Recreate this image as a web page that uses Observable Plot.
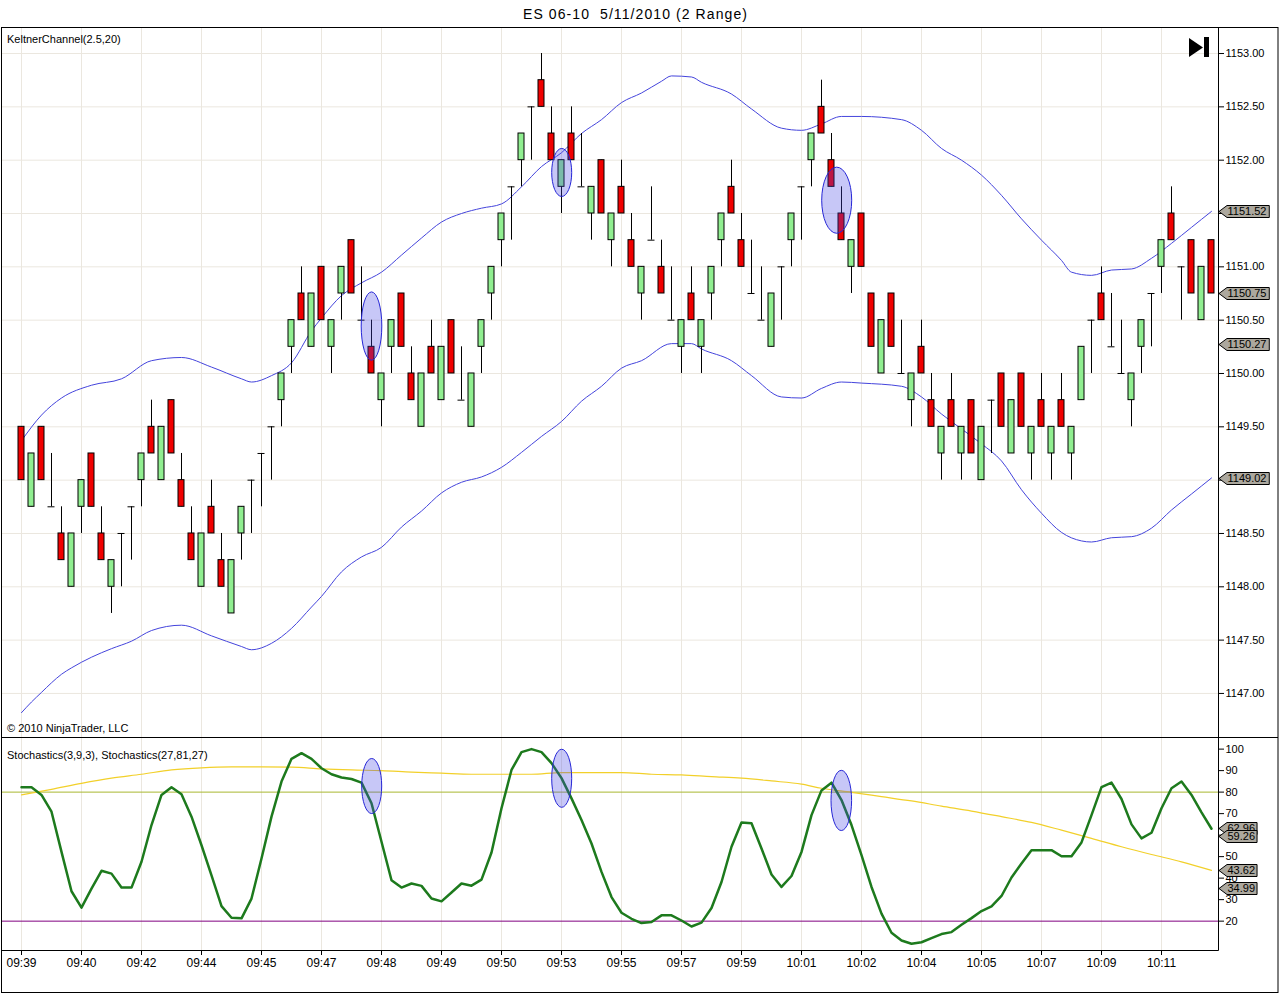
<!DOCTYPE html>
<html>
<head>
<meta charset="utf-8">
<script src="https://cdn.jsdelivr.net/npm/d3@7"></script>
<script src="https://cdn.jsdelivr.net/npm/@observablehq/plot@0.6"></script>
<style>
  body { margin: 0; background: #fff; }
  #wrap { position: relative; width: 1280px; height: 994px; overflow: hidden; background: #fff; }
  #wrap > svg { position: absolute; left: 0; }
</style>
</head>
<body>
<div id="wrap"></div>
<script>
// ---------------- DATA ----------------
const chartTitle = "ES 06-10  5/11/2010 (2 Range)";
const priceLabel = "KeltnerChannel(2.5,20)";
const stochLabel = "Stochastics(3,9,3), Stochastics(27,81,27)";
const copyright = "© 2010 NinjaTrader, LLC";

const barOpen = [
  1149.5, 1148.75, 1149.5, 1148.75, 1148.5, 1148.0, 1148.75, 1149.25, 1148.5, 1148.0,
  1148.5, 1148.75, 1149.0, 1149.5, 1149.0, 1149.75, 1149.0, 1148.5, 1148.0, 1148.75,
  1148.25, 1147.75, 1148.5, 1149.0, 1149.25, 1149.5, 1149.75, 1150.25, 1150.75, 1150.25,
  1151.0, 1150.25, 1150.75, 1151.25, 1150.5, 1150.25, 1149.75, 1150.25, 1150.75, 1150.0,
  1149.5, 1150.25, 1149.75, 1150.5, 1149.75, 1149.5, 1150.25, 1150.75, 1151.25, 1151.75,
  1152.0, 1152.5, 1152.75, 1152.25, 1151.75, 1152.25, 1151.75, 1151.5, 1152.0, 1151.25,
  1151.75, 1151.25, 1150.75, 1151.25, 1151.0, 1150.5, 1150.25, 1150.75, 1150.25, 1150.75,
  1151.25, 1151.75, 1151.25, 1150.75, 1150.5, 1150.25, 1151.0, 1151.25, 1151.75, 1152.0,
  1152.5, 1152.0, 1151.5, 1151.0, 1151.5, 1150.75, 1150.0, 1150.75, 1150.0, 1149.75,
  1150.25, 1149.75, 1149.25, 1149.75, 1149.25, 1149.75, 1149.0, 1149.75, 1150.0, 1149.25,
  1150.0, 1149.25, 1149.75, 1149.25, 1149.75, 1149.25, 1149.75, 1150.5, 1150.75, 1150.25,
  1150.0, 1149.75, 1150.25, 1150.75, 1151.0, 1151.5, 1151.0, 1151.25, 1150.5, 1151.25
];
const barHigh = [
  1149.5, 1149.25, 1149.5, 1149.25, 1148.75, 1148.5, 1149.0, 1149.25, 1148.75, 1148.25,
  1148.5, 1148.75, 1149.25, 1149.75, 1149.5, 1149.75, 1149.25, 1148.75, 1148.5, 1149.0,
  1148.5, 1148.25, 1148.75, 1149.0, 1149.25, 1149.5, 1150.0, 1150.5, 1151.0, 1150.75,
  1151.0, 1150.5, 1151.0, 1151.25, 1151.0, 1150.5, 1150.0, 1150.5, 1150.75, 1150.25,
  1150.0, 1150.5, 1150.25, 1150.5, 1150.25, 1150.0, 1150.5, 1151.0, 1151.5, 1151.75,
  1152.25, 1152.5, 1153.0, 1152.5, 1152.0, 1152.5, 1152.25, 1151.75, 1152.0, 1151.5,
  1152.0, 1151.5, 1151.0, 1151.75, 1151.25, 1151.0, 1150.5, 1151.0, 1150.5, 1151.0,
  1151.5, 1152.0, 1151.5, 1151.25, 1151.0, 1150.75, 1151.0, 1151.5, 1151.75, 1152.25,
  1152.75, 1152.25, 1151.75, 1151.25, 1151.5, 1150.75, 1150.5, 1150.75, 1150.5, 1150.0,
  1150.5, 1150.0, 1149.5, 1150.0, 1149.5, 1149.75, 1149.5, 1149.75, 1150.0, 1149.75,
  1150.0, 1149.5, 1150.0, 1149.5, 1150.0, 1149.5, 1150.25, 1150.5, 1151.0, 1150.75,
  1150.5, 1150.0, 1150.5, 1150.75, 1151.25, 1151.75, 1151.0, 1151.25, 1151.0, 1151.25
];
const barLow = [
  1149.0, 1148.75, 1149.0, 1148.75, 1148.25, 1148.0, 1148.5, 1148.75, 1148.25, 1147.75,
  1148.0, 1148.25, 1148.75, 1149.25, 1149.0, 1149.25, 1148.75, 1148.25, 1148.0, 1148.5,
  1148.0, 1147.75, 1148.25, 1148.5, 1148.75, 1149.0, 1149.5, 1150.0, 1150.5, 1150.25,
  1150.5, 1150.0, 1150.5, 1150.75, 1150.5, 1150.0, 1149.5, 1150.0, 1150.25, 1149.75,
  1149.5, 1150.0, 1149.75, 1150.0, 1149.75, 1149.5, 1150.0, 1150.5, 1151.0, 1151.25,
  1151.75, 1152.0, 1152.5, 1152.0, 1151.5, 1152.0, 1151.75, 1151.25, 1151.5, 1151.0,
  1151.5, 1151.0, 1150.5, 1151.25, 1150.75, 1150.5, 1150.0, 1150.5, 1150.0, 1150.5,
  1151.0, 1151.5, 1151.0, 1150.75, 1150.5, 1150.25, 1150.5, 1151.0, 1151.25, 1151.75,
  1152.25, 1151.75, 1151.25, 1150.75, 1151.0, 1150.25, 1150.0, 1150.25, 1150.0, 1149.5,
  1150.0, 1149.5, 1149.0, 1149.5, 1149.0, 1149.25, 1149.0, 1149.25, 1149.5, 1149.25,
  1149.5, 1149.0, 1149.5, 1149.0, 1149.5, 1149.0, 1149.75, 1150.0, 1150.5, 1150.25,
  1150.0, 1149.5, 1150.0, 1150.25, 1150.75, 1151.25, 1150.5, 1150.75, 1150.5, 1150.75
];
const barClose = [
  1149.0, 1149.25, 1149.0, 1148.75, 1148.25, 1148.5, 1149.0, 1148.75, 1148.25, 1148.25,
  1148.5, 1148.75, 1149.25, 1149.25, 1149.5, 1149.25, 1148.75, 1148.25, 1148.5, 1148.5,
  1148.0, 1148.25, 1148.75, 1149.0, 1149.25, 1149.5, 1150.0, 1150.5, 1150.5, 1150.75,
  1150.5, 1150.5, 1151.0, 1150.75, 1150.5, 1150.0, 1150.0, 1150.5, 1150.25, 1149.75,
  1150.0, 1150.0, 1150.25, 1150.0, 1149.75, 1150.0, 1150.5, 1151.0, 1151.5, 1151.75,
  1152.25, 1152.5, 1152.5, 1152.0, 1152.0, 1152.0, 1151.75, 1151.75, 1151.5, 1151.5,
  1151.5, 1151.0, 1151.0, 1151.25, 1150.75, 1150.5, 1150.5, 1150.5, 1150.5, 1151.0,
  1151.5, 1151.5, 1151.0, 1150.75, 1150.5, 1150.75, 1151.0, 1151.5, 1151.75, 1152.25,
  1152.25, 1151.75, 1151.25, 1151.25, 1151.0, 1150.25, 1150.5, 1150.25, 1150.0, 1150.0,
  1150.0, 1149.5, 1149.5, 1149.5, 1149.5, 1149.25, 1149.5, 1149.75, 1149.5, 1149.75,
  1149.5, 1149.5, 1149.5, 1149.5, 1149.5, 1149.5, 1150.25, 1150.5, 1150.5, 1150.25,
  1150.0, 1150.0, 1150.5, 1150.75, 1151.25, 1151.25, 1151.0, 1150.75, 1151.0, 1150.75
];

// Keltner channel (upper / lower band), read at selected bars
const kcUpperBars = [0,2,4,7,10,13,16,19,22,23,25,27,29,30,32,34,36,38,40,42,44,46,48,50,52,54,56,58,60,62,64,65,67,68,71,73,76,78,80,82,84,88,90,92,94,96,98,100,102,104,105,107,109,111,113,115,117,119];
const kcUpper = [1149.37,1149.61,1149.77,1149.89,1149.95,1150.12,1150.15,1150.06,1149.95,1149.92,1149.98,1150.10,1150.40,1150.52,1150.73,1150.85,1150.95,1151.11,1151.27,1151.42,1151.50,1151.55,1151.59,1151.75,1151.94,1152.07,1152.25,1152.38,1152.54,1152.63,1152.74,1152.79,1152.78,1152.73,1152.62,1152.48,1152.30,1152.28,1152.34,1152.41,1152.41,1152.38,1152.28,1152.11,1152.00,1151.86,1151.67,1151.45,1151.25,1151.06,1150.95,1150.92,1150.97,1150.98,1151.08,1151.22,1151.37,1151.52];
const kcLowerBars = [0,1,2,3,4,5,7,9,11,13,16,19,22,23,25,27,29,30,32,34,36,38,40,42,44,46,48,50,52,54,56,58,60,62,65,67,68,71,73,76,78,80,82,84,88,90,92,94,96,98,100,102,104,106,107,109,111,113,115,117,119];
const kcLower = [1146.82,1146.92,1147.01,1147.10,1147.18,1147.24,1147.34,1147.42,1147.49,1147.59,1147.64,1147.54,1147.44,1147.41,1147.47,1147.61,1147.81,1147.91,1148.14,1148.28,1148.37,1148.56,1148.71,1148.88,1148.98,1149.03,1149.12,1149.26,1149.41,1149.55,1149.74,1149.88,1150.05,1150.12,1150.28,1150.28,1150.23,1150.12,1149.98,1149.78,1149.77,1149.86,1149.92,1149.91,1149.88,1149.78,1149.62,1149.48,1149.34,1149.18,1148.91,1148.69,1148.51,1148.43,1148.42,1148.46,1148.47,1148.55,1148.72,1148.87,1149.02];

// Stochastics(3,9,3) D (green), one value per bar
const stochFast = [
  82.3, 82.3, 78.7, 70.9, 52.2, 33.9, 26.3, 35.1, 43.4, 42.1,
  35.6, 35.6, 47.6, 64.7, 78.7, 82.3, 79.0, 68.6, 55.3, 41.3,
  27.0, 21.6, 21.3, 30.5, 49.1, 68.6, 84.9, 95.5, 98.1, 95.5,
  91.1, 88.3, 86.8, 86.1, 84.4, 74.8, 56.9, 39.0, 35.6, 37.5,
  36.4, 30.5, 29.2, 33.3, 37.5, 36.5, 39.3, 51.9, 72.5, 90.3,
  98.6, 100.0, 98.6, 93.5, 86.5, 77.1, 67.0, 56.1, 42.9, 31.2,
  23.9, 21.1, 19.1, 19.6, 22.7, 22.7, 20.3, 17.5, 19.3, 26.1,
  38.2, 54.6, 65.9, 65.5, 53.8, 41.7, 35.9, 41.0, 52.2, 69.3,
  80.8, 84.4, 76.3, 64.7, 50.7, 35.9, 23.5, 14.6, 11.0, 9.5,
  10.2, 12.1, 14.0, 14.9, 18.3, 21.4, 24.7, 26.9, 31.7, 40.3,
  46.8, 53.0, 53.0, 53.0, 50.2, 50.2, 56.6, 69.3, 82.3, 84.4,
  76.8, 65.0, 58.5, 61.1, 72.5, 81.8, 84.9, 78.7, 70.6, 62.96
];
// Stochastics(27,81,27) D (yellow), read every third bar
const stochSlowBars = [0,3,6,9,12,15,18,21,24,27,30,33,36,39,42,45,48,51,54,57,60,63,66,69,72,75,78,80,83,86,89,92,95,98,101,104,107,110,113,116,119];
const stochSlow = [78.7,81.3,84.1,86.5,88.3,90.3,91.3,91.7,91.7,91.6,90.8,90.3,90.0,89.3,88.8,88.3,88.3,88.3,89.1,89.1,89.1,88.3,88.0,87.2,86.5,85.2,83.7,81.8,79.9,77.9,75.9,73.5,71.2,68.6,65.9,62.3,58.5,54.6,51.0,47.6,43.62];

const stochLevels = [80, 20];

// axis ticks
const priceTicks = [1147, 1147.5, 1148, 1148.5, 1149, 1149.5, 1150, 1150.5, 1151, 1151.5, 1152, 1152.5, 1153];
const stochTicks = [20, 30, 40, 50, 60, 70, 80, 90, 100];
const timeTickBars = [0, 6, 12, 18, 24, 30, 36, 42, 48, 54, 60, 66, 72, 78, 84, 90, 96, 102, 108, 114];
const timeTickLabels = ["09:39","09:40","09:42","09:44","09:45","09:47","09:48","09:49","09:50","09:53","09:55","09:57","09:59","10:01","10:02","10:04","10:05","10:07","10:09","10:11"];

// right-edge value flags
const priceFlags = [1151.52, 1150.75, 1150.27, 1149.02];
const stochFlags = [62.96, 59.26, 43.62, 34.99];

// highlight ellipses: bar position, centre value, half height (value units), half width (bars)
const priceEllipseBar = [35.05, 54.07, 81.57];
const priceEllipseMid = [1150.44, 1151.88, 1151.62];
const priceEllipseHalf = [0.32, 0.225, 0.31];
const priceEllipseWidth = [1.03, 1.0, 1.5];
const stochEllipseBar = [35.07, 54.07, 82.03];
const stochEllipseMid = [82.6, 86.2, 75.9];
const stochEllipseHalf = [12.8, 13.5, 14.0];
const stochEllipseWidth = [1.0, 1.0, 1.03];

// ---------------- BUILD ----------------
const FONT = '"Liberation Sans", Arial, sans-serif';
const GRID = "#ebe7df";
const bars = barOpen.map((o, i) => ({i, open: o, high: barHigh[i], low: barLow[i], close: barClose[i]}));
const upBars = bars.filter(d => d.close > d.open);
const downBars = bars.filter(d => d.close < d.open);
const dojiBars = bars.filter(d => d.close === d.open);
const upperRows = kcUpperBars.map((b, k) => ({i: b, v: kcUpper[k]}));
const lowerRows = kcLowerBars.map((b, k) => ({i: b, v: kcLower[k]}));
const fastRows = stochFast.map((v, i) => ({i, v}));
const slowRows = stochSlowBars.map((b, k) => ({i: b, v: stochSlow[k]}));
const tickLabel = new Map(timeTickBars.map((b, k) => [b, timeTickLabels[k]]));
const xDomain = [-1.9, 119.7];

function ellipseMark(bx, mid, half, wid) {
  return (index, scales) => {
    const g = d3.create("svg:g");
    bx.forEach((b, k) => {
      const cx = scales.x(b), cy = scales.y(mid[k]);
      g.append("ellipse")
        .attr("cx", cx).attr("cy", cy)
        .attr("rx", Math.abs(scales.x(b + wid[k]) - cx))
        .attr("ry", Math.abs(scales.y(mid[k] + half[k]) - cy))
        .attr("fill", "rgba(70,70,230,0.30)")
        .attr("stroke", "#2626d6").attr("stroke-width", 1);
    });
    return g.node();
  };
}

function flagMark(values) {
  return (index, scales, channels, dims) => {
    const g = d3.create("svg:g").attr("text-anchor", "start");
    const ax = dims.width - dims.marginRight;
    values.forEach(v => {
      const y = Math.round(scales.y(v)) + 0.5;
      const label = v.toFixed(2);
      const tw = (label.length - 1) * 6.12 + 3.06;
      const right = ax + 10 + tw + 1.5;
      g.append("path")
        .attr("d", `M${ax + 1},${y}L${ax + 9},${y - 6}H${right}V${y + 6}H${ax + 9}Z`)
        .attr("fill", "#aca89e").attr("stroke", "#000").attr("stroke-width", 1);
      g.append("text")
        .attr("x", ax + 9.5).attr("y", y).attr("dy", "0.36em")
        .attr("text-anchor", "start")
        .attr("fill", "#000").attr("font-size", 11).attr("font-family", FONT)
        .text(label);
    });
    return g.node();
  };
}

const baseStyle = {background: "transparent", fontFamily: FONT, fontSize: "11px", color: "#000", overflow: "visible"};

const priceChart = Plot.plot({
  width: 1280, height: 737,
  marginTop: 27, marginBottom: 0, marginLeft: 2, marginRight: 62,
  style: baseStyle,
  x: {domain: xDomain, axis: null},
  y: {domain: [1146.587, 1153.244]},
  marks: [
    Plot.gridY(priceTicks, {stroke: GRID, strokeOpacity: 1}),
    Plot.gridX(timeTickBars, {stroke: GRID, strokeOpacity: 1}),
    Plot.line(upperRows, {x: "i", y: "v", stroke: "#4444dc", strokeWidth: 1, curve: "monotone-x"}),
    Plot.line(lowerRows, {x: "i", y: "v", stroke: "#4444dc", strokeWidth: 1, curve: "monotone-x"}),
    Plot.ruleX(bars, {x: "i", y1: "low", y2: "high", stroke: "#000", strokeWidth: 1}),
    Plot.rect(upBars, {x1: d => d.i - 0.3, x2: d => d.i + 0.3, y1: "open", y2: "close", fill: "#90ee90", stroke: "#000", strokeWidth: 1}),
    Plot.rect(downBars, {x1: d => d.i - 0.3, x2: d => d.i + 0.3, y1: "open", y2: "close", fill: "#f00000", stroke: "#000", strokeWidth: 1}),
    Plot.ruleY(dojiBars, {y: "open", x1: d => d.i - 0.35, x2: d => d.i + 0.35, stroke: "#000", strokeWidth: 1}),
    ellipseMark(priceEllipseBar, priceEllipseMid, priceEllipseHalf, priceEllipseWidth),
    Plot.axisY({anchor: "right", ticks: priceTicks, tickFormat: d => d.toFixed(2), tickSize: 5, tickPadding: 2, label: null, fontSize: 11}),
    flagMark(priceFlags)
  ]
});

const stochChart = Plot.plot({
  width: 1280, height: 257,
  marginTop: 0, marginBottom: 44, marginLeft: 2, marginRight: 62,
  style: baseStyle,
  x: {domain: xDomain},
  y: {domain: [6.35, 105.4]},
  marks: [
    Plot.gridX(timeTickBars, {stroke: GRID, strokeOpacity: 1}),
    Plot.ruleY(stochLevels, {stroke: (d) => d === 80 ? "#a8b830" : "#800080", strokeWidth: 1}),
    Plot.line(slowRows, {x: "i", y: "v", stroke: "#f2d02a", strokeWidth: 1.2, curve: "monotone-x"}),
    Plot.line(fastRows, {x: "i", y: "v", stroke: "#1d7a1d", strokeWidth: 2.5}),
    ellipseMark(stochEllipseBar, stochEllipseMid, stochEllipseHalf, stochEllipseWidth),
    Plot.axisY({anchor: "right", ticks: stochTicks, tickSize: 5, tickPadding: 2, label: null, fontSize: 11}),
    Plot.axisX({anchor: "bottom", ticks: timeTickBars, tickFormat: d => tickLabel.get(d), tickSize: 5, tickPadding: 3, label: null, fontSize: 12}),
    flagMark(stochFlags)
  ]
});

const wrap = document.getElementById("wrap");
priceChart.style.position = "absolute"; priceChart.style.top = "0px"; priceChart.style.left = "0px";
stochChart.style.position = "absolute"; stochChart.style.top = "737px"; stochChart.style.left = "0px";
wrap.appendChild(priceChart);
wrap.appendChild(stochChart);

// frame, panel divider, axis lines, titles
const ov = d3.select(wrap).append("svg")
  .attr("width", 1280).attr("height", 994)
  .style("position", "absolute").style("top", "0px").style("left", "0px")
  .style("pointer-events", "none").style("font-family", FONT);
ov.append("rect").attr("x", 1.5).attr("y", 27.5).attr("width", 1276.5).attr("height", 965)
  .attr("fill", "none").attr("stroke", "#000");
ov.append("line").attr("x1", 1).attr("x2", 1278).attr("y1", 737.5).attr("y2", 737.5).attr("stroke", "#000");
ov.append("line").attr("x1", 1218.5).attr("x2", 1218.5).attr("y1", 27).attr("y2", 950.5).attr("stroke", "#000");
ov.append("line").attr("x1", 1).attr("x2", 1218.5).attr("y1", 950.5).attr("y2", 950.5).attr("stroke", "#000");
ov.append("text").attr("x", 523).attr("y", 18.5).attr("font-size", 14)
  .attr("textLength", 224).attr("lengthAdjust", "spacing")
  .attr("xml:space", "preserve").style("white-space", "pre").text(chartTitle);
ov.append("text").attr("x", 7).attr("y", 43).attr("font-size", 11).text(priceLabel);
ov.append("text").attr("x", 7).attr("y", 732).attr("font-size", 11).text(copyright);
ov.append("text").attr("x", 7).attr("y", 759).attr("font-size", 11).text(stochLabel);
// "go to end" button glyph
ov.append("path").attr("d", "M1189,38L1203,47.5L1189,57Z").attr("fill", "#000");
ov.append("rect").attr("x", 1204).attr("y", 37).attr("width", 5).attr("height", 20).attr("fill", "#000");
</script>
</body>
</html>
